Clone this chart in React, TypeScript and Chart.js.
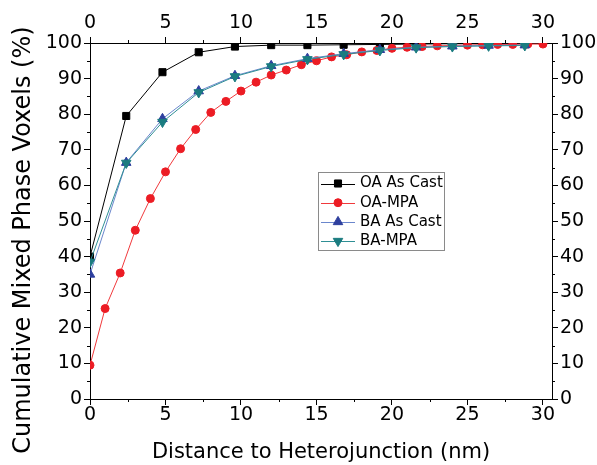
import React, { useEffect, useRef } from 'react';
import { Chart, registerables } from 'chart.js';
import { drawPoint } from 'chart.js/helpers';

Chart.register(...registerables);

// ---- Data ----
const coarseX = [0, 2.4, 4.8, 7.2, 9.6, 12, 14.4, 16.8, 19.2, 21.6, 24, 26.4, 28.8];
const oaAsCast = [40, 79.5, 91.8, 97.4, 99.0, 99.4, 99.4, 99.5, 99.6, 99.7, 99.8, 99.8, 99.9];
const baAsCast = [35, 66.4, 78.7, 86.5, 90.8, 93.6, 95.6, 97.0, 98.1, 98.8, 99.1, 99.3, 99.4];
const baMpa = [38.5, 66.3, 77.8, 86.1, 90.6, 93.4, 95.4, 96.8, 97.9, 98.7, 99.0, 99.2, 99.3];

const fineX = [0, 1, 2, 3, 4, 5, 6, 7, 8, 9, 10, 11, 12, 13, 14, 15, 16, 17, 18, 19, 20, 21, 22, 23, 24, 25, 26, 27, 28, 29, 30];
const oaMpa = [9.5, 25.4, 35.4, 47.4, 56.3, 63.8, 70.3, 75.7, 80.5, 83.6, 86.5, 89.0, 91.0, 92.4, 93.9, 95.0, 96.1, 96.7, 97.5, 97.9, 98.5, 98.8, 99.0, 99.2, 99.3, 99.4, 99.5, 99.6, 99.6, 99.7, 99.7];

const seriesLabels = ['OA As Cast', 'OA-MPA', 'BA As Cast', 'BA-MPA'];
const xMinorTicks = [2.5, 7.5, 12.5, 17.5, 22.5, 27.5];
const yMinorTicks = [5, 15, 25, 35, 45, 55, 65, 75, 85, 95];

const FONT = "'DejaVu Sans', sans-serif";

const zip = (xs: number[], ys: number[]) => ys.map((y, i) => ({ x: xs[i], y }));

const minorTicksPlugin = {
  id: 'minorTicks',
  afterDraw(chart: any) {
    const ctx = chart.ctx;
    const len = 3;
    ctx.save();
    ctx.strokeStyle = '#000';
    ctx.lineWidth = 1;
    ['x', 'x2'].forEach((id) => {
      const s = chart.scales[id];
      const bottom = id === 'x';
      const y0 = bottom ? s.top : s.bottom;
      xMinorTicks.forEach((v) => {
        const p = Math.round(s.getPixelForValue(v)) + 0.5;
        ctx.beginPath();
        ctx.moveTo(p, y0);
        ctx.lineTo(p, y0 + (bottom ? len : -len));
        ctx.stroke();
      });
    });
    ['y', 'y2'].forEach((id) => {
      const s = chart.scales[id];
      const left = id === 'y';
      const x0 = left ? s.right : s.left;
      yMinorTicks.forEach((v) => {
        const p = Math.round(s.getPixelForValue(v)) + 0.5;
        ctx.beginPath();
        ctx.moveTo(x0, p);
        ctx.lineTo(x0 + (left ? -len : len), p);
        ctx.stroke();
      });
    });
    ctx.restore();
  },
};

const boxLegendPlugin = {
  id: 'boxLegend',
  afterDraw(chart: any, _args: any, opts: any) {
    const ctx = chart.ctx;
    const { left, top, width, height, rowStart, rowGap, lineFrom, lineTo, textX } = opts;
    ctx.save();
    ctx.fillStyle = '#fff';
    ctx.fillRect(left, top, width, height);
    ctx.strokeStyle = '#8a8a8a';
    ctx.lineWidth = 1;
    ctx.strokeRect(left + 0.5, top + 0.5, width, height);
    chart.data.datasets.forEach((ds: any, i: number) => {
      const y = rowStart + i * rowGap;
      ctx.strokeStyle = ds.borderColor;
      ctx.lineWidth = 1;
      ctx.beginPath();
      ctx.moveTo(lineFrom, Math.round(y) + 0.5);
      ctx.lineTo(lineTo, Math.round(y) + 0.5);
      ctx.stroke();
      ctx.fillStyle = ds.pointBackgroundColor;
      ctx.strokeStyle = ds.pointBorderColor;
      drawPoint(ctx, {
        pointStyle: ds.pointStyle,
        rotation: ds.pointRotation || 0,
        radius: ds.pointRadius,
        borderWidth: 1,
      } as any, (lineFrom + lineTo) / 2, y);
      ctx.fillStyle = '#000';
      ctx.font = `15px ${FONT}`;
      ctx.textBaseline = 'middle';
      ctx.textAlign = 'left';
      ctx.fillText(ds.label, textX, y);
    });
    ctx.restore();
  },
};

const tickFont = { family: FONT, size: 19, lineHeight: 1 };

export default function App() {
  const ref = useRef<HTMLCanvasElement>(null);

  useEffect(() => {
    if (!ref.current) return;
    const chart = new Chart(ref.current, {
      type: 'line',
      data: {
        datasets: [
          {
            label: seriesLabels[0],
            data: zip(coarseX, oaAsCast),
            borderColor: '#000000',
            pointBackgroundColor: '#000000',
            pointBorderColor: '#000000',
            pointStyle: 'rect',
            pointRadius: 5,
            borderWidth: 1,
            order: 4,
          },
          {
            label: seriesLabels[1],
            data: zip(fineX, oaMpa),
            borderColor: '#f0393c',
            pointBackgroundColor: '#ec1c24',
            pointBorderColor: '#ec1c24',
            pointStyle: 'circle',
            pointRadius: 4,
            borderWidth: 1,
            order: 3,
          },
          {
            label: seriesLabels[2],
            data: zip(coarseX, baAsCast),
            borderColor: '#6a86cc',
            pointBackgroundColor: '#2e3f9e',
            pointBorderColor: '#2e3f9e',
            pointStyle: 'triangle',
            pointRadius: 5.5,
            borderWidth: 1,
            order: 2,
          },
          {
            label: seriesLabels[3],
            data: zip(coarseX, baMpa),
            borderColor: '#2f8f95',
            pointBackgroundColor: '#1b7c80',
            pointBorderColor: '#1b7c80',
            pointStyle: 'triangle',
            pointRotation: 180,
            pointRadius: 5.5,
            borderWidth: 1,
            order: 1,
          },
        ] as any,
      },
      options: {
        animation: false,
        responsive: true,
        maintainAspectRatio: false,
        layout: { padding: 0 },
        plugins: {
          legend: { display: false },
          tooltip: { enabled: false },
          boxLegend: {
            left: 318,
            top: 172,
            width: 126,
            height: 78,
            rowStart: 183.5,
            rowGap: 19.2,
            lineFrom: 321,
            lineTo: 355,
            textX: 360,
          },
        } as any,
        scales: {
          x: {
            type: 'linear',
            position: 'bottom',
            min: 0,
            max: 30.6,
            ticks: { stepSize: 5, includeBounds: false, padding: 1, color: '#000', font: tickFont, maxRotation: 0 },
            grid: { drawOnChartArea: false, tickLength: 6, color: '#000' },
            border: { color: '#000' },
            title: {
              display: true,
              text: 'Distance to Heterojunction (nm)',
              color: '#000',
              font: { family: FONT, size: 21, lineHeight: 1.2 },
              padding: { top: 0, bottom: 0 },
            },
            afterFit: (s: any) => { s.height = 66; },
          },
          x2: {
            type: 'linear',
            position: 'top',
            min: 0,
            max: 30.6,
            ticks: { stepSize: 5, includeBounds: false, padding: 4, color: '#000', font: tickFont, maxRotation: 0 },
            grid: { drawOnChartArea: false, tickLength: 6, color: '#000' },
            border: { color: '#000' },
            afterFit: (s: any) => { s.height = 43; },
          },
          y: {
            type: 'linear',
            position: 'left',
            min: 0,
            max: 100,
            ticks: { stepSize: 10, padding: 2, color: '#000', font: tickFont },
            grid: { drawOnChartArea: false, tickLength: 6, color: '#000' },
            border: { color: '#000' },
            title: {
              display: true,
              text: 'Cumulative Mixed Phase Voxels (%)     ',
              color: '#000',
              font: { family: FONT, size: 24, lineHeight: 1.2 },
              padding: { top: 9, bottom: 0 },
            },
            afterFit: (s: any) => { s.width = 90; },
          },
          y2: {
            type: 'linear',
            position: 'right',
            min: 0,
            max: 100,
            ticks: { stepSize: 10, padding: 2, color: '#000', font: tickFont },
            grid: { drawOnChartArea: false, tickLength: 6, color: '#000' },
            border: { color: '#000' },
            afterFit: (s: any) => { s.width = 45; },
          },
        } as any,
      },
      plugins: [minorTicksPlugin, boxLegendPlugin],
    });
    return () => chart.destroy();
  }, []);

  return (
    <div style={{ position: 'fixed', left: 0, top: 0, width: 597, height: 465, background: '#fff' }}>
      <canvas ref={ref} />
    </div>
  );
}
